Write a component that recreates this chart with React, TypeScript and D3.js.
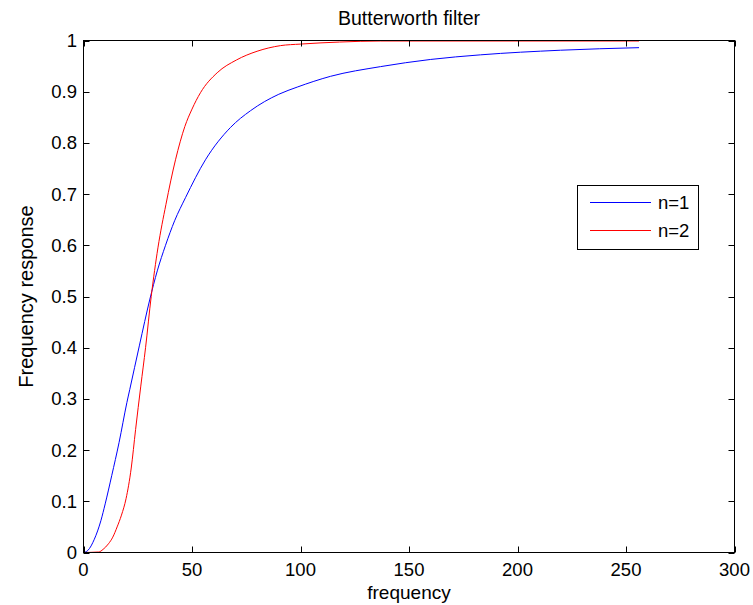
import React from 'react';
import * as d3 from 'd3';

// Series values
const n1Freq = [0, 2, 5, 8, 10, 13, 16.4, 20, 21.3, 25.8, 30.6, 34, 37.8, 42, 47, 56.2, 67.7, 77, 90, 98.5, 113.8, 136.9, 160, 183, 219.8, 256];
const n1Resp = [0, 0.004, 0.026, 0.062, 0.095, 0.15, 0.215, 0.293, 0.318, 0.405, 0.495, 0.55, 0.6, 0.648, 0.693, 0.767, 0.83, 0.863, 0.895, 0.909, 0.93, 0.949, 0.963, 0.972, 0.981, 0.986];

const n2Freq = [0, 7, 9, 11.5, 13.5, 15.5, 17.5, 19.6, 22, 24, 26.4, 28.6, 31.2, 34.3, 38, 42.4, 46.7, 50, 53.9, 61.6, 70.5, 80, 90.8, 100, 118, 137, 256];
const n2Resp = [0, 0.001, 0.006, 0.017, 0.03, 0.05, 0.073, 0.105, 0.165, 0.24, 0.325, 0.4, 0.5, 0.595, 0.68, 0.767, 0.832, 0.866, 0.898, 0.937, 0.962, 0.979, 0.99, 0.993, 0.997, 0.999, 0.999];

const xTicks = [0, 50, 100, 150, 200, 250, 300];
const yTicks = [0, 0.1, 0.2, 0.3, 0.4, 0.5, 0.6, 0.7, 0.8, 0.9, 1];
const seriesNames = ['n=1', 'n=2'];
const seriesColors = ['#0000ff', '#ff0000'];

const titleText = 'Butterworth filter';
const xLabelText = 'frequency';
const yLabelText = 'Frequency response';

export default function App() {
  const W = 753;
  const H = 605;
  const left = 83.5, right = 734.5, top = 40.5, bottom = 552.5;
  const x = d3.scaleLinear().domain([0, 300]).range([left, right]);
  const y = d3.scaleLinear().domain([0, 1]).range([bottom, top]);
  const line = d3
    .line<[number, number]>()
    .x((d) => x(d[0]))
    .y((d) => y(d[1]))
    .curve(d3.curveMonotoneX);

  const s1 = n1Freq.map((f, i) => [f, n1Resp[i]] as [number, number]);
  const s2 = n2Freq.map((f, i) => [f, n2Resp[i]] as [number, number]);
  const font = 'Liberation Sans, Arial, sans-serif';
  const tickLen = 6;
  const fmt = (v: number) => String(Math.round(v * 10) / 10);

  const legX = 577.5, legY = 185.5, legW = 121, legH = 64;
  const legendRows = [202.5, 230.5];

  return (
    <svg
      width={W}
      height={H}
      style={{ position: 'absolute', left: 0, top: 0, background: '#fff' }}
      fontFamily={font}
    >
      <rect x={0} y={0} width={W} height={H} fill="#fff" />
      <rect x={left} y={top} width={right - left} height={bottom - top} fill="#fff" />

      {/* data lines */}
      <path d={line(s1) || ''} fill="none" stroke={seriesColors[0]} strokeWidth={1} />
      <path d={line(s2) || ''} fill="none" stroke={seriesColors[1]} strokeWidth={1} />

      {/* axes box */}
      <rect x={left} y={top} width={right - left} height={bottom - top} fill="none" stroke="#000" strokeWidth={1} />

      {/* x ticks */}
      {xTicks.map((t) => (
        <g key={'x' + t}>
          <line x1={Math.round(x(t)) + 0.5} x2={Math.round(x(t)) + 0.5} y1={bottom} y2={bottom - tickLen} stroke="#000" />
          <line x1={Math.round(x(t)) + 0.5} x2={Math.round(x(t)) + 0.5} y1={top} y2={top + tickLen} stroke="#000" />
          <text x={x(t)} y={576} textAnchor="middle" fontSize={18.5} fill="#000">
            {String(t)}
          </text>
        </g>
      ))}

      {/* y ticks */}
      {yTicks.map((t) => (
        <g key={'y' + t}>
          <line x1={left} x2={left + tickLen} y1={Math.round(y(t)) + 0.5} y2={Math.round(y(t)) + 0.5} stroke="#000" />
          <line x1={right} x2={right - tickLen} y1={Math.round(y(t)) + 0.5} y2={Math.round(y(t)) + 0.5} stroke="#000" />
          <text x={77} y={y(t) + 6.5} textAnchor="end" fontSize={18.5} fill="#000">
            {fmt(t)}
          </text>
        </g>
      ))}

      {/* title & labels */}
      <text x={(left + right) / 2} y={25} textAnchor="middle" fontSize={19.5} fill="#000">
        {titleText}
      </text>
      <text x={(left + right) / 2} y={599} textAnchor="middle" fontSize={19} fill="#000">
        {xLabelText}
      </text>
      <text
        transform={`translate(33, ${(top + bottom) / 2}) rotate(-90)`}
        textAnchor="middle"
        fontSize={20}
        fill="#000"
      >
        {yLabelText}
      </text>

      {/* legend */}
      <rect x={legX} y={legY} width={legW} height={legH} fill="#fff" stroke="#000" strokeWidth={1} />
      {seriesNames.map((name, i) => (
        <g key={name}>
          <line x1={590} x2={651} y1={legendRows[i]} y2={legendRows[i]} stroke={seriesColors[i]} strokeWidth={1} />
          <text x={658} y={legendRows[i] + 6.5} fontSize={18.5} fill="#000">
            {name}
          </text>
        </g>
      ))}
    </svg>
  );
}
